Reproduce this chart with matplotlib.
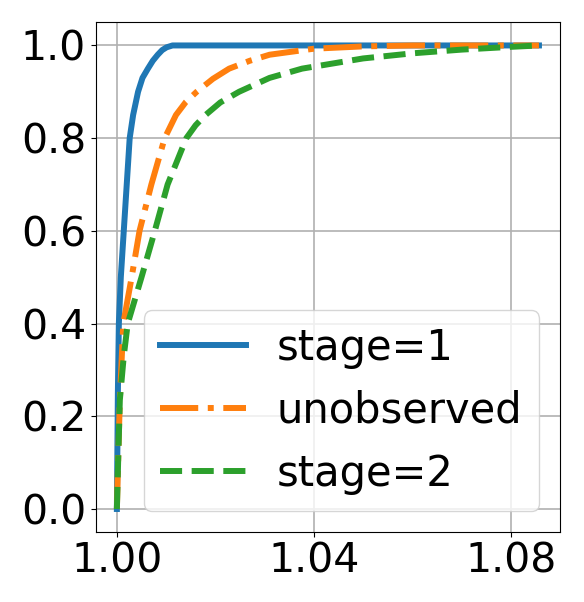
import matplotlib
matplotlib.use("Agg")
import matplotlib.pyplot as plt

# stage=1
x_stage1 = [1.0, 1.0002, 1.0004, 1.0008, 1.0014, 1.002, 1.0026, 1.0033, 1.0043,
            1.0052, 1.0063, 1.0073, 1.0083, 1.0092, 1.0101, 1.0113, 1.0857]
y_stage1 = [0.0, 0.25, 0.4, 0.5, 0.6, 0.7, 0.8, 0.85, 0.9,
            0.93, 0.95, 0.967, 0.98, 0.99, 0.996, 1.0, 1.0]

# unobserved
x_unobs = [1.0, 1.0003, 1.0006, 1.0013, 1.003, 1.0046, 1.007, 1.0097, 1.012,
           1.014, 1.0162, 1.0195, 1.0228, 1.027, 1.031, 1.04, 1.05, 1.06, 1.0857]
y_unobs = [0.0, 0.12, 0.235, 0.4, 0.5, 0.6, 0.7, 0.8, 0.85,
           0.878, 0.9, 0.928, 0.95, 0.967, 0.98, 0.993, 0.998, 1.0, 1.0]

# stage=2
x_stage2 = [1.0, 1.0003, 1.0006, 1.0014, 1.0022, 1.005, 1.0077, 1.0103, 1.0141,
            1.016, 1.018, 1.021, 1.0248, 1.031, 1.0376, 1.05, 1.06, 1.07, 1.08, 1.0857]
y_stage2 = [0.0, 0.12, 0.235, 0.33, 0.4, 0.5, 0.6, 0.7, 0.8,
            0.828, 0.85, 0.877, 0.9, 0.93, 0.95, 0.972, 0.983, 0.991, 0.997, 1.0]

x_ticks = [1.00, 1.04, 1.08]
x_ticklabels = ["1.00", "1.04", "1.08"]
y_ticks = [0.0, 0.2, 0.4, 0.6, 0.8, 1.0]

fig = plt.figure(figsize=(5.84, 6.02), dpi=100)
ax = fig.add_axes([0.164, 0.116, 0.795, 0.847])
lw = 4.3
ax.plot(x_stage1, y_stage1, color="#1f77b4", lw=lw, ls="-", label="stage=1")
ax.plot(x_unobs, y_unobs, color="#ff7f0e", lw=lw, ls="-.", label="unobserved")
ax.plot(x_stage2, y_stage2, color="#2ca02c", lw=lw, ls="--", label="stage=2")

ax.set_xticks(x_ticks)
ax.set_xticklabels(x_ticklabels)
ax.set_yticks(y_ticks)
ax.tick_params(labelsize=29.5)
ax.grid(True, color="#b0b0b0", lw=1.2)
ax.legend(loc="lower right", fontsize=30, handlelength=2.05, handletextpad=0.75)

fig.savefig("out.png", dpi=100)
